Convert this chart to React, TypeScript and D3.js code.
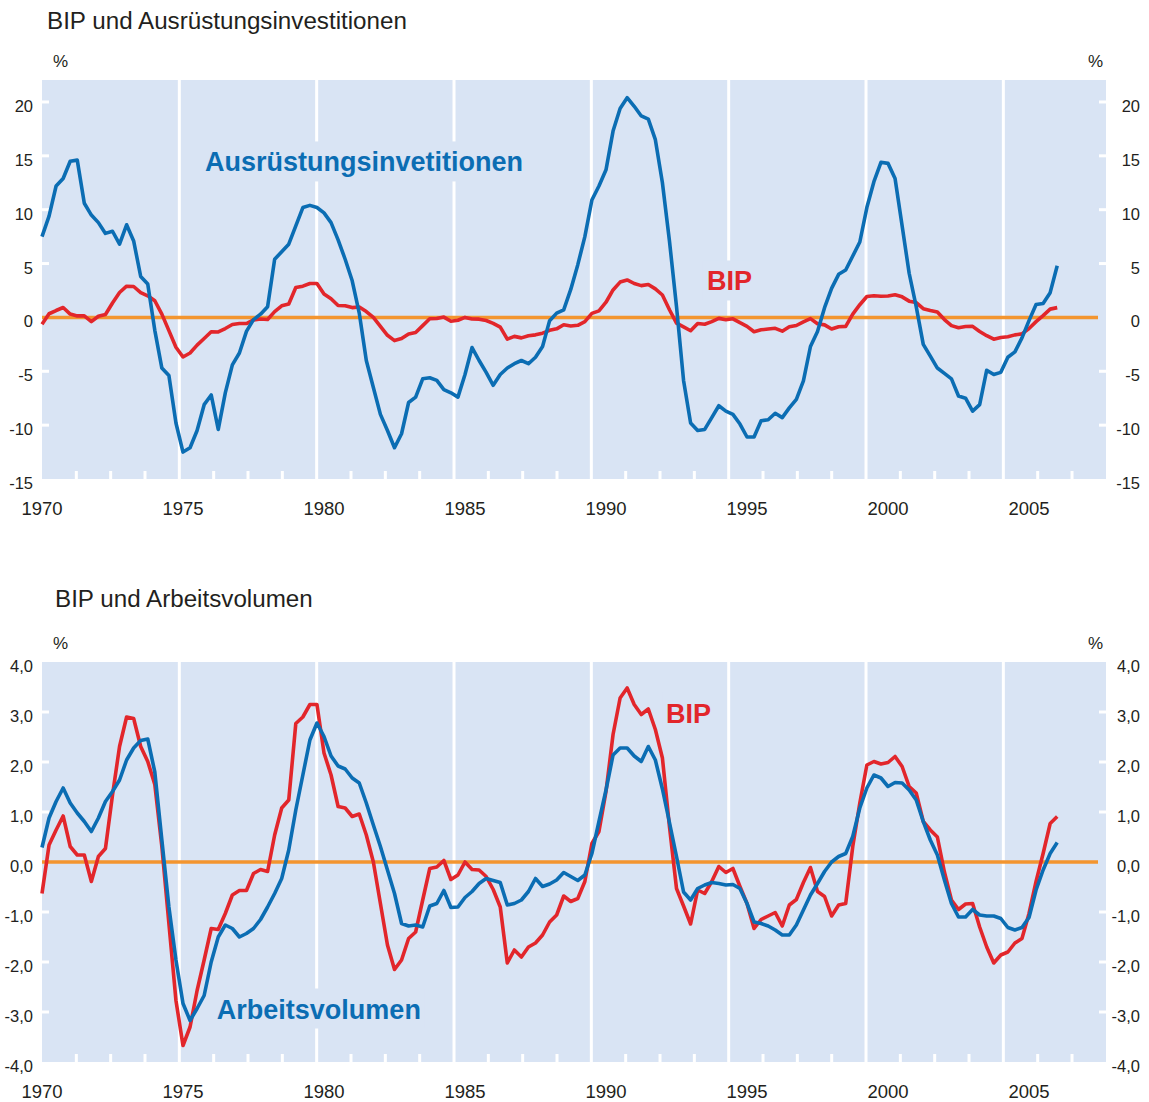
import React, { useEffect, useRef } from "react";
import * as d3 from "d3";

// quarterly series, 1970 Q1 .. 2006 Q1 (year-on-year change, %)
const startYear = 1970;

const bip = [
  -0.63, 0.34, 0.64, 0.92, 0.31, 0.14, 0.14, -0.39, 0.11, 0.27,
  1.34, 2.31, 2.9, 2.87, 2.31, 2.01, 1.55, 0.31, -1.23, -2.77,
  -3.67, -3.3, -2.57, -1.96, -1.33, -1.35, -1.03, -0.66, -0.57, -0.57,
  -0.23, -0.15, -0.19, 0.54, 1.08, 1.24, 2.77, 2.9, 3.15, 3.15,
  2.18, 1.74, 1.11, 1.08, 0.91, 0.96, 0.54, 0.0, -0.83, -1.66,
  -2.15, -1.96, -1.53, -1.4, -0.76, -0.13, -0.1, 0.03, -0.35, -0.26,
  0.0, -0.15, -0.16, -0.29, -0.55, -0.9, -2.02, -1.76, -1.9, -1.7,
  -1.62, -1.46, -1.2, -1.06, -0.68, -0.79, -0.73, -0.39, 0.37, 0.61,
  1.41, 2.55, 3.28, 3.48, 3.15, 2.95, 3.06, 2.65, 2.08, 0.71,
  -0.53, -0.88, -1.24, -0.56, -0.63, -0.39, -0.09, -0.21, -0.13, -0.49,
  -0.83, -1.33, -1.15, -1.08, -1.01, -1.28, -0.86, -0.75, -0.41, -0.11,
  -0.59, -0.69, -1.08, -0.86, -0.83, 0.31, 1.18, 1.94, 2.01, 1.96,
  1.99, 2.11, 1.91, 1.51, 1.38, 0.81, 0.64, 0.5, -0.2, -0.76,
  -0.95, -0.84, -0.83, -1.3, -1.7, -2.02, -1.86, -1.8, -1.62, -1.53,
  -1.03, -0.39, 0.17, 0.77, 0.91,
];

const ausruestung = [
  7.5, 9.4, 12.2, 12.9, 14.5, 14.6, 10.6, 9.5, 8.8, 7.8,
  8.0, 6.8, 8.6, 7.1, 3.8, 3.1, -1.2, -4.7, -5.4, -9.8,
  -12.5, -12.1, -10.5, -8.1, -7.2, -10.4, -7.0, -4.4, -3.3, -1.3,
  -0.2, 0.3, 1.0, 5.4, 6.1, 6.8, 8.5, 10.2, 10.4, 10.2,
  9.7, 8.8, 7.2, 5.4, 3.4, 0.4, -4.0, -6.5, -9.0, -10.5,
  -12.1, -10.8, -7.9, -7.4, -5.7, -5.6, -5.85, -6.7, -7.0, -7.4,
  -5.3, -2.8, -4.0, -5.1, -6.3, -5.3, -4.7, -4.3, -4.0, -4.3,
  -3.7, -2.7, -0.3, 0.4, 0.7, 2.6, 4.9, 7.5, 10.9, 12.2,
  13.7, 17.3, 19.4, 20.4, 19.6, 18.7, 18.4, 16.5, 12.5, 7.1,
  1.0, -5.85, -9.8, -10.5, -10.4, -9.3, -8.2, -8.7, -9.0, -9.9,
  -11.1, -11.1, -9.6, -9.5, -8.9, -9.3, -8.4, -7.6, -5.9, -2.7,
  -1.3, 0.9, 2.7, 4.0, 4.4, 5.7, 7.0, 10.2, 12.6, 14.4,
  14.3, 12.9, 8.5, 4.1, 1.0, -2.5, -3.6, -4.7, -5.2, -5.7,
  -7.3, -7.5, -8.7, -8.1, -4.9, -5.3, -5.1, -3.7, -3.2, -1.9,
  -0.3, 1.2, 1.3, 2.3, 4.8,
];

const arbeitsvolumen = [
  0.29, 0.88, 1.21, 1.48, 1.18, 0.98, 0.81, 0.61, 0.88, 1.21,
  1.41, 1.64, 2.04, 2.28, 2.43, 2.46, 1.8, 0.44, -0.9, -1.96,
  -2.83, -3.17, -2.93, -2.67, -2.0, -1.5, -1.26, -1.33, -1.5, -1.43,
  -1.33, -1.15, -0.9, -0.63, -0.33, 0.24, 1.04, 1.74, 2.44, 2.78,
  2.51, 2.12, 1.92, 1.86, 1.68, 1.58, 1.18, 0.74, 0.31, -0.16,
  -0.63, -1.23, -1.28, -1.26, -1.3, -0.88, -0.83, -0.57, -0.91, -0.9,
  -0.71, -0.59, -0.43, -0.33, -0.37, -0.41, -0.86, -0.83, -0.76, -0.59,
  -0.33, -0.49, -0.44, -0.36, -0.21, -0.29, -0.37, -0.26, 0.17, 0.81,
  1.44, 2.14, 2.28, 2.28, 2.12, 2.01, 2.31, 2.04, 1.46, 0.79,
  0.11, -0.6, -0.76, -0.53, -0.46, -0.41, -0.43, -0.46, -0.45, -0.53,
  -0.83, -1.2, -1.23, -1.28, -1.36, -1.46, -1.46, -1.26, -0.96, -0.66,
  -0.43, -0.19, 0.0, 0.11, 0.17, 0.51, 1.08, 1.48, 1.74, 1.68,
  1.51, 1.59, 1.58, 1.44, 1.24, 0.81, 0.44, 0.14, -0.36, -0.83,
  -1.1, -1.1, -0.95, -1.06, -1.08, -1.08, -1.13, -1.31, -1.36, -1.31,
  -1.11, -0.56, -0.16, 0.17, 0.39,
];

const xTickYears = [1970, 1975, 1980, 1985, 1990, 1995, 2000, 2005];
const topTicks = [-15, -10, -5, 0, 5, 10, 15, 20];
const bottomTicks = [-4, -3, -2, -1, 0, 1, 2, 3, 4];

const FONT = "'Liberation Sans', Arial, Helvetica, sans-serif";
const BG = "#d9e4f4";
const BLUE = "#0b6db3";
const RED = "#e2262b";
const ORANGE = "#f3952f";
const TEXT = "#231f20";

const W = 1149;
const H = 1102;
const left = 42;
const right = 1106;
// white grid lines in the original do not sit on whole years
const gridStep = 4.87;

function drawPanel(svg, o) {
  var x = d3.scaleLinear().domain([1970, 2007.73]).range([left, right]);
  var y = d3.scaleLinear().domain(o.domain).range([o.bottom, o.top]);
  var g = svg.append("g");

  g.append("text")
    .attr("x", o.titleX)
    .attr("y", o.titleY)
    .attr("font-size", 24.2)
    .attr("fill", TEXT)
    .text(o.title);

  g.append("text").attr("x", 53).attr("y", o.top - 13).attr("font-size", 17).attr("fill", TEXT).text("%");
  g.append("text").attr("x", 1088).attr("y", o.top - 13).attr("font-size", 17).attr("fill", TEXT).text("%");

  g.append("rect")
    .attr("x", left)
    .attr("y", o.top)
    .attr("width", right - left)
    .attr("height", o.bottom - o.top)
    .attr("fill", BG);

  // vertical white lines and small ticks
  for (var k = 1; k * gridStep / 4 < 2007.73 - 1970; k++) {
    var xx = x(1970 + (k * gridStep) / 4);
    if (k % 4 === 0) {
      g.append("line")
        .attr("x1", xx).attr("x2", xx)
        .attr("y1", o.top).attr("y2", o.bottom)
        .attr("stroke", "#fff").attr("stroke-width", 3);
    } else {
      g.append("line")
        .attr("x1", xx).attr("x2", xx)
        .attr("y1", o.bottom - 8).attr("y2", o.bottom)
        .attr("stroke", "#fff").attr("stroke-width", 3);
    }
  }

  // y ticks + labels, both sides
  o.ticks.forEach(function (t) {
    var yy = y(t);
    if (t !== 0 && t !== o.domain[0] && t < o.domain[1] - 0.5) {
      g.append("line").attr("x1", left).attr("x2", left + 7).attr("y1", yy).attr("y2", yy)
        .attr("stroke", "#fff").attr("stroke-width", 3);
      g.append("line").attr("x1", right - 7).attr("x2", right).attr("y1", yy).attr("y2", yy)
        .attr("stroke", "#fff").attr("stroke-width", 3);
    }
    var lab = o.fmt(t);
    g.append("text").attr("x", 33).attr("y", yy + 10).attr("text-anchor", "end")
      .attr("font-size", 16.5).attr("fill", TEXT).text(lab);
    g.append("text").attr("x", 1140).attr("y", yy + 10).attr("text-anchor", "end")
      .attr("font-size", 16.5).attr("fill", TEXT).text(lab);
  });

  xTickYears.forEach(function (yr) {
    g.append("text")
      .attr("x", x(yr))
      .attr("y", o.bottom + 36)
      .attr("text-anchor", "middle")
      .attr("font-size", 18.5)
      .attr("fill", TEXT)
      .text(yr);
  });

  // series labels, with a patch of background behind them
  var labs = o.labels.map(function (l) {
    var lg = g.append("g");
    var r = lg.append("rect").attr("fill", BG);
    var t = lg.append("text")
      .attr("x", x(l.year))
      .attr("y", y(l.value))
      .attr("font-size", 27)
      .attr("font-weight", "bold")
      .attr("fill", l.color)
      .text(l.text);
    var b = t.node().getBBox();
    r.attr("x", b.x - 4).attr("y", b.y - 6).attr("width", b.width + 8).attr("height", b.height + 10);
    return lg;
  });

  g.append("line")
    .attr("x1", left).attr("x2", right - 8)
    .attr("y1", y(0)).attr("y2", y(0))
    .attr("stroke", ORANGE).attr("stroke-width", 3.5);

  var line = d3.line()
    .x(function (d, i) { return x(startYear + i / 4); })
    .y(function (d) { return y(d); });

  o.series.forEach(function (s) {
    g.append("path")
      .datum(s.values)
      .attr("d", line)
      .attr("fill", "none")
      .attr("stroke", s.color)
      .attr("stroke-width", 3.6)
      .attr("stroke-linejoin", "round");
  });

  labs.forEach(function (lg) { lg.raise(); });
}

export default function App() {
  const ref = useRef(null);

  useEffect(() => {
    var svg = d3.select(ref.current);
    svg.selectAll("*").remove();

    drawPanel(svg, {
      top: 80,
      bottom: 479,
      domain: [-15, 22.04],
      ticks: topTicks,
      fmt: function (v) { return String(v); },
      title: "BIP und Ausrüstungsinvestitionen",
      titleX: 47,
      titleY: 29,
      series: [
        { values: bip, color: RED },
        { values: ausruestung, color: BLUE },
      ],
      labels: [
        { text: "Ausrüstungsinvetitionen", year: 1975.78, value: 13.55, color: BLUE },
        { text: "BIP", year: 1993.58, value: 2.5, color: RED },
      ],
    });

    drawPanel(svg, {
      top: 662,
      bottom: 1062,
      domain: [-4, 4],
      ticks: bottomTicks,
      fmt: function (v) { return v.toFixed(1).replace(".", ","); },
      title: "BIP und Arbeitsvolumen",
      titleX: 55,
      titleY: 607,
      series: [
        { values: bip, color: RED },
        { values: arbeitsvolumen, color: BLUE },
      ],
      labels: [
        { text: "BIP", year: 1992.13, value: 2.79, color: RED },
        { text: "Arbeitsvolumen", year: 1976.2, value: -3.13, color: BLUE },
      ],
    });
  }, []);

  return (
    <svg
      ref={ref}
      width={W}
      height={H}
      style={{ position: "absolute", left: 0, top: 0, background: "#fff", fontFamily: FONT }}
    />
  );
}
